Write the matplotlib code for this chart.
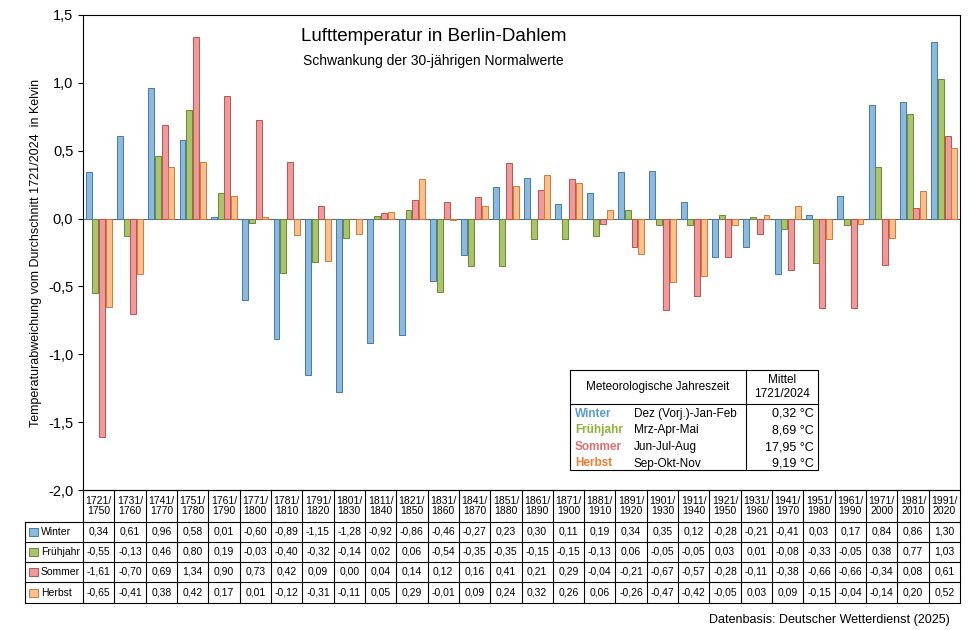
import matplotlib
matplotlib.use('Agg')
import matplotlib.pyplot as plt
import numpy as np
from matplotlib.patches import Rectangle

plt.rcParams['font.family'] = ['Liberation Sans', 'DejaVu Sans']

periods = [f'{1721 + 10*i}/\n{1750 + 10*i}' for i in range(28)]
seasons = ['Winter', 'Frühjahr', 'Sommer', 'Herbst']
winter = [0.34, 0.61, 0.96, 0.58, 0.01, -0.60, -0.89, -1.15, -1.28, -0.92, -0.86, -0.46, -0.27, 0.23,
          0.30, 0.11, 0.19, 0.34, 0.35, 0.12, -0.28, -0.21, -0.41, 0.03, 0.17, 0.84, 0.86, 1.30]
fruehjahr = [-0.55, -0.13, 0.46, 0.80, 0.19, -0.03, -0.40, -0.32, -0.14, 0.02, 0.06, -0.54, -0.35, -0.35,
             -0.15, -0.15, -0.13, 0.06, -0.05, -0.05, 0.03, 0.01, -0.08, -0.33, -0.05, 0.38, 0.77, 1.03]
sommer = [-1.61, -0.70, 0.69, 1.34, 0.90, 0.73, 0.42, 0.09, 0.00, 0.04, 0.14, 0.12, 0.16, 0.41,
          0.21, 0.29, -0.04, -0.21, -0.67, -0.57, -0.28, -0.11, -0.38, -0.66, -0.66, -0.34, 0.08, 0.61]
herbst = [-0.65, -0.41, 0.38, 0.42, 0.17, 0.01, -0.12, -0.31, -0.11, 0.05, 0.29, -0.01, 0.09, 0.24,
          0.32, 0.26, 0.06, -0.26, -0.47, -0.42, -0.05, 0.03, 0.09, -0.15, -0.04, -0.14, 0.20, 0.52]
series = [winter, fruehjahr, sommer, herbst]
fills = ['#8db9dc', '#a9c46c', '#ee9a9a', '#f9bf8f']
edges = ['#3f7bb0', '#6a8a2a', '#c0504d', '#d07a30']
textcols = ['#5b9bd5', '#8db33a', '#e07070', '#f07c30']
ranges = ['Dez (Vorj.)-Jan-Feb', 'Mrz-Apr-Mai', 'Jun-Jul-Aug', 'Sep-Okt-Nov']
means = ['0,32 °C', '8,69 °C', '17,95 °C', '9,19 °C']

W, H = 975, 630
fig = plt.figure(figsize=(9.75, 6.3), dpi=100)
ax = fig.add_axes([83/W, 1-490/H, 877/W, 475/H])
x = np.arange(28)
bw = 0.19
for k, vals in enumerate(series):
    ax.bar(x + (k-1.5)*0.215, vals, bw, color=fills[k], edgecolor=edges[k], linewidth=0.7, zorder=3)
ax.set_xlim(-0.5, 27.5)
ax.set_ylim(-2.0, 1.5)
ticks = np.arange(-2.0, 1.51, 0.5)
ax.set_yticks(ticks)
ax.set_yticklabels([f'{v:.1f}'.replace('.', ',') for v in ticks], fontsize=10.5)
ax.set_xticks([])
ax.axhline(0, color='#666666', linewidth=0.8, zorder=2)
ax.set_ylabel('Temperaturabweichung vom Durchschnitt 1721/2024  in Kelvin', fontsize=9)
ax.text(0.40, 0.945, 'Lufttemperatur in Berlin-Dahlem', transform=ax.transAxes, ha='center', fontsize=13.5)
ax.text(0.40, 0.895, 'Schwankung der 30-jährigen Normalwerte', transform=ax.transAxes, ha='center', fontsize=10)

# inset legend box
lg = fig.add_axes([570/W, 1-470/H, 248/W, 100/H])
lg.set_xlim(0, 248); lg.set_ylim(100, 0); lg.axis('off')
lg.add_patch(Rectangle((0, 0), 248, 100, fill=True, facecolor='white', edgecolor='black', lw=0.8, clip_on=False))
lg.plot([0, 248], [34, 34], color='black', lw=0.8, clip_on=False)
lg.plot([176, 176], [0, 100], color='black', lw=0.8, clip_on=False)
lg.text(88, 17, 'Meteorologische Jahreszeit', ha='center', va='center', fontsize=8.5)
lg.text(212, 17, 'Mittel\n1721/2024', ha='center', va='center', fontsize=8.5)
for k in range(4):
    yy = 44 + k*16.5
    lg.text(5, yy, seasons[k], color=textcols[k], fontweight='bold', va='center', fontsize=8.5)
    lg.text(64, yy, ranges[k], va='center', fontsize=8.5)
    lg.text(244, yy, means[k], va='center', ha='right', fontsize=9)

# data table
tb = fig.add_axes([25/W, 1-603/H, 935/W, 113/H])
lab_w = 58/(877/28)
tb.set_xlim(-0.5-lab_w, 27.5); tb.set_ylim(113, 0); tb.axis('off')
rows_y = [0, 32, 52, 72, 92, 113]
tb.plot([-0.5, 27.5], [0, 0], color='black', lw=0.8, clip_on=False)
for yy in rows_y[1:]:
    tb.plot([-0.5-lab_w, 27.5], [yy, yy], color='black', lw=0.8, clip_on=False)
for i in range(29):
    tb.plot([i-0.5, i-0.5], [0, 113], color='black', lw=0.8, clip_on=False)
tb.plot([-0.5-lab_w]*2, [32, 113], color='black', lw=0.8, clip_on=False)
for i in range(28):
    tb.text(i, 16, periods[i], ha='center', va='center', fontsize=7.5, linespacing=1.1)
    for k in range(4):
        v = series[k][i]
        tb.text(i, (rows_y[k+1]+rows_y[k+2])/2, f'{v:.2f}'.replace('.', ','), ha='center', va='center', fontsize=7.5)
for k in range(4):
    yc = (rows_y[k+1]+rows_y[k+2])/2
    tb.add_patch(Rectangle((-0.5-lab_w+0.12, yc-4), 0.3, 8, facecolor=fills[k], edgecolor=edges[k], lw=0.7))
    tb.text(-0.5-lab_w+0.5, yc, seasons[k], va='center', fontsize=7.5)

fig.text(950/W, 1-620/H, 'Datenbasis: Deutscher Wetterdienst (2025)', ha='right', va='center', fontsize=9)
fig.savefig('out.png', dpi=100)
